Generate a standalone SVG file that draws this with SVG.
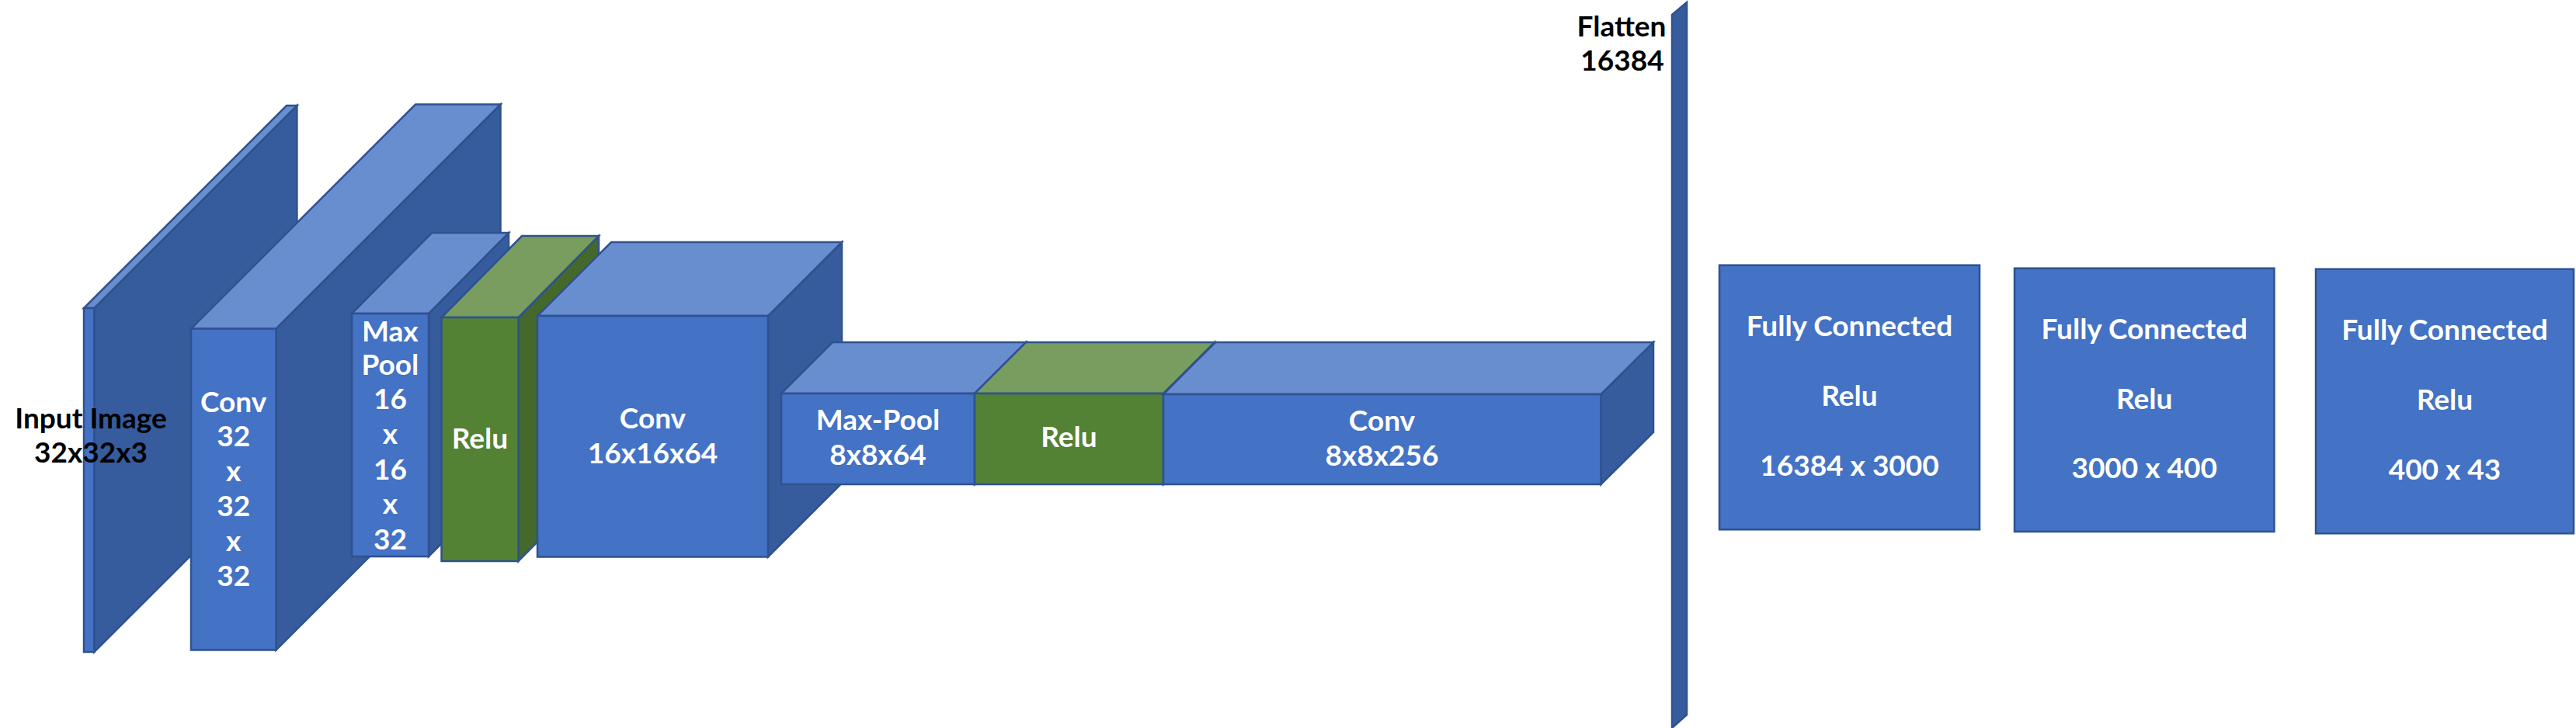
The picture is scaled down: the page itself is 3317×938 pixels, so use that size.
<svg xmlns="http://www.w3.org/2000/svg" width="3317" height="938" viewBox="0 0 3317 938">
<style>
.fb{fill:#4472C4;stroke:#2F528F;stroke-width:2.5}
.tb{fill:#698ED0;stroke:#2F528F;stroke-width:2.5}
.sb{fill:#365C9D;stroke:#2F528F;stroke-width:2.5}
.fg{fill:#548235;stroke:#2F528F;stroke-width:2.5}
.tg{fill:#789D5E;stroke:#2F528F;stroke-width:2.5}
.sg{fill:#44692B;stroke:#2F528F;stroke-width:2.5}
.t{font-family:Lato,"Liberation Sans",sans-serif;font-weight:700;font-size:37px;fill:#FFFFFF;text-anchor:middle}
.k{fill:#000000}
</style>
<rect x="0" y="0" width="3317" height="938" fill="#FFFFFF"/>

<g id="input">
<polygon class="sb" points="121.4,397 382.4,136 382.4,579 121.4,840"/>
<polygon class="tb" points="108,397 369,136 382.4,136 121.4,397"/>
<rect class="fb" x="108" y="397" width="13.4" height="443"/>
<text class="t k" x="117" y="552">Input Image</text>
<text class="t k" x="117" y="596">32x32x3</text>
</g>

<g id="conv1">
<polygon class="sb" points="355.5,423.5 644.5,134.5 644.5,548.5 355.5,837.5"/>
<polygon class="tb" points="246,423.5 535,134.5 644.5,134.5 355.5,423.5"/>
<rect class="fb" x="246" y="423.5" width="109.5" height="414"/>
<text class="t" x="300.7" y="530.6">Conv</text>
<text class="t" x="300.7" y="575.4">32</text>
<text class="t" x="300.7" y="620">x</text>
<text class="t" x="300.7" y="665">32</text>
<text class="t" x="300.7" y="710">x</text>
<text class="t" x="300.7" y="754.7">32</text>
</g>

<g id="maxpool1">
<polygon class="sb" points="552,404 655,300 655,613 552,717"/>
<polygon class="tb" points="453,404 556,300 655,300 552,404"/>
<rect class="fb" x="453" y="404" width="99" height="313"/>
<text class="t" x="502.4" y="439.5">Max</text>
<text class="t" x="502.4" y="483.4">Pool</text>
<text class="t" x="502.4" y="527.3">16</text>
<text class="t" x="502.4" y="572">x</text>
<text class="t" x="502.4" y="617.9">16</text>
<text class="t" x="502.4" y="662">x</text>
<text class="t" x="502.4" y="707.5">32</text>
</g>

<g id="relu1">
<polygon class="sg" points="667.5,409 771,304 771,618.5 667.5,723"/>
<polygon class="tg" points="568.5,409 672,304 771,304 667.5,409"/>
<rect class="fg" x="568.5" y="409" width="99" height="314"/>
<text class="t" x="618" y="577.8">Relu</text>
</g>

<g id="conv2">
<polygon class="sb" points="989,407 1084,312 1084,622.5 989,717.5"/>
<polygon class="tb" points="692,407 787,312 1084,312 989,407"/>
<rect class="fb" x="692" y="407" width="297" height="310.5"/>
<text class="t" x="840.5" y="552.3">Conv</text>
<text class="t" x="840.5" y="596.7">16x16x64</text>
</g>

<g id="maxpool2">
<polygon class="sb" points="1255,507 1321,441 1321,558 1255,624"/>
<polygon class="tb" points="1006,507 1072,441 1321,441 1255,507"/>
<rect class="fb" x="1006" y="507" width="249" height="117"/>
<text class="t" x="1130.5" y="554">Max-Pool</text>
<text class="t" x="1130.5" y="599.3">8x8x64</text>
</g>

<g id="relu2">
<polygon class="sg" points="1498,507 1564,441 1564,558 1498,624"/>
<polygon class="tg" points="1255,507 1321,441 1564,441 1498,507"/>
<rect class="fg" x="1255" y="507" width="243" height="117"/>
<text class="t" x="1376.5" y="576">Relu</text>
</g>

<g id="conv3">
<polygon class="sb" points="2061.5,508 2129,441 2129,557 2061.5,624"/>
<polygon class="tb" points="1498,508 1565,441 2129,441 2061.5,508"/>
<rect class="fb" x="1498" y="508" width="563.5" height="116"/>
<text class="t" x="1779.5" y="555">Conv</text>
<text class="t" x="1779.5" y="600">8x8x256</text>
</g>

<g id="flatten">
<polygon class="sb" points="2153,19 2172,3 2172,921 2153,938"/>
<text class="t k" x="2088" y="46.6">Flatten</text>
<text class="t k" x="2089" y="91">16384</text>
</g>

<g id="fc1">
<rect class="fb" x="2214" y="341.7" width="335" height="340.6"/>
<text class="t" x="2381.5" y="433.3">Fully Connected</text>
<text class="t" x="2381.5" y="522.7">Relu</text>
<text class="t" x="2381.5" y="612.7">16384 x 3000</text>
</g>

<g id="fc2">
<rect class="fb" x="2594" y="345.7" width="334.4" height="339.3"/>
<text class="t" x="2761.2" y="437.3">Fully Connected</text>
<text class="t" x="2761.2" y="526.7">Relu</text>
<text class="t" x="2761.2" y="616">3000 x 400</text>
</g>

<g id="fc3">
<rect class="fb" x="2982" y="346.7" width="332" height="340.6"/>
<text class="t" x="3148" y="438.3">Fully Connected</text>
<text class="t" x="3148" y="528.3">Relu</text>
<text class="t" x="3148" y="617.7">400 x 43</text>
</g>

<g id="connectors"></g>
</svg>
